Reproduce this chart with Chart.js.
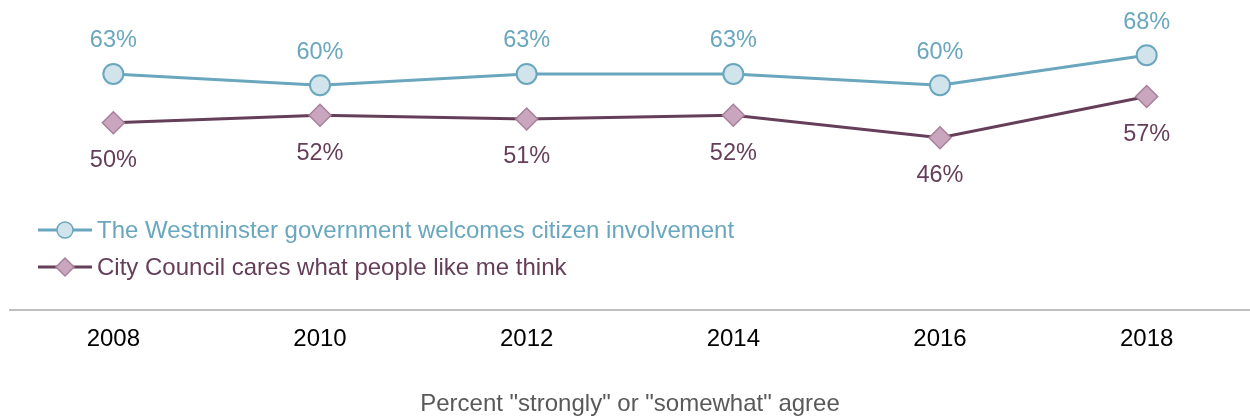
<!DOCTYPE html>
<html>
<head>
<meta charset="utf-8">
<script src="https://cdn.jsdelivr.net/npm/chart.js@4/dist/chart.umd.min.js"></script>
<style>
html,body{margin:0;padding:0;background:#fff;}
#wrap{width:1250px;height:417px;position:relative;}
</style>
</head>
<body>
<div id="wrap"><canvas id="c" width="1250" height="417"></canvas></div>
<script>
const years = ["2008", "2010", "2012", "2014", "2016", "2018"];
const westminster = [63, 60, 63, 63, 60, 68];
const council = [50, 52, 51, 52, 46, 57];
const seriesNames = ["The Westminster government welcomes citizen involvement", "City Council cares what people like me think"];
const axisTitle = 'Percent "strongly" or "somewhat" agree';

const BLUE = "#6aa7be", BLUE_FILL = "#d2e4eb";
const PURP = "#653f59", PURP_FILL = "#c9a6bd", PURP_BORDER = "#a7819b";
const FONT = "Liberation Sans, Arial, sans-serif";

const labelPlugin = {
  id: "labels",
  afterDatasetsDraw(chart) {
    const ctx = chart.ctx;
    ctx.save();
    ctx.font = "23.5px " + FONT;
    ctx.textAlign = "center";
    ctx.textBaseline = "middle";
    chart.data.datasets.forEach((ds, i) => {
      const meta = chart.getDatasetMeta(i);
      meta.data.forEach((pt, j) => {
        ctx.fillStyle = i === 0 ? BLUE : PURP;
        const dy = i === 0 ? -33 : 38;
        ctx.fillText(ds.data[j] + "%", pt.x, pt.y + dy);
      });
    });
    // legend
    const items = [
      {y: 230, color: BLUE, fill: BLUE_FILL, border: BLUE, style: "circle"},
      {y: 267, color: PURP, fill: PURP_FILL, border: PURP_BORDER, style: "rectRot"}
    ];
    ctx.font = "24px " + FONT;
    items.forEach((it, i) => {
      ctx.strokeStyle = it.color;
      ctx.lineWidth = 3;
      ctx.beginPath();
      ctx.moveTo(38, it.y);
      ctx.lineTo(92, it.y);
      ctx.stroke();
      ctx.fillStyle = it.fill;
      ctx.strokeStyle = it.border;
      ctx.lineWidth = 1.5;
      Chart.helpers.drawPoint(ctx, {pointStyle: it.style, radius: it.style === "circle" ? 8 : 9, borderWidth: 1.5, rotation: 0}, 65, it.y);
      ctx.fillStyle = it.color;
      ctx.textAlign = "left";
      ctx.fillText(seriesNames[i], 97, it.y + 1);
    });
    ctx.restore();
  }
};

new Chart(document.getElementById("c"), {
  type: "line",
  data: {
    labels: years,
    datasets: [
      {label: seriesNames[0], data: westminster, borderColor: BLUE, borderWidth: 3,
       pointStyle: "circle", pointRadius: 10, pointBackgroundColor: BLUE_FILL, pointBorderColor: BLUE, pointBorderWidth: 2, clip: false, tension: 0},
      {label: seriesNames[1], data: council, borderColor: PURP, borderWidth: 3,
       pointStyle: "rectRot", pointRadius: 11, pointBackgroundColor: PURP_FILL, pointBorderColor: PURP_BORDER, pointBorderWidth: 1.5, clip: false, tension: 0}
    ]
  },
  options: {
    responsive: false,
    animation: false,
    events: [],
    layout: {autoPadding: false, padding: {left: 10, right: 0, top: 0, bottom: 0}},
    plugins: {legend: {display: false}, tooltip: {enabled: false}},
    scales: {
      y: {display: false, min: 0, max: 82.7},
      x: {
        offset: true,
        grid: {display: false},
        border: {display: true, color: "#bfbfbf", width: 2},
        ticks: {color: "#000", font: {family: FONT, size: 24}, padding: 7},
        title: {display: true, text: axisTitle, color: "#595959", font: {family: FONT, size: 24}, padding: {top: 29, bottom: -2}}
      }
    }
  },
  plugins: [labelPlugin]
});
</script>
</body>
</html>
